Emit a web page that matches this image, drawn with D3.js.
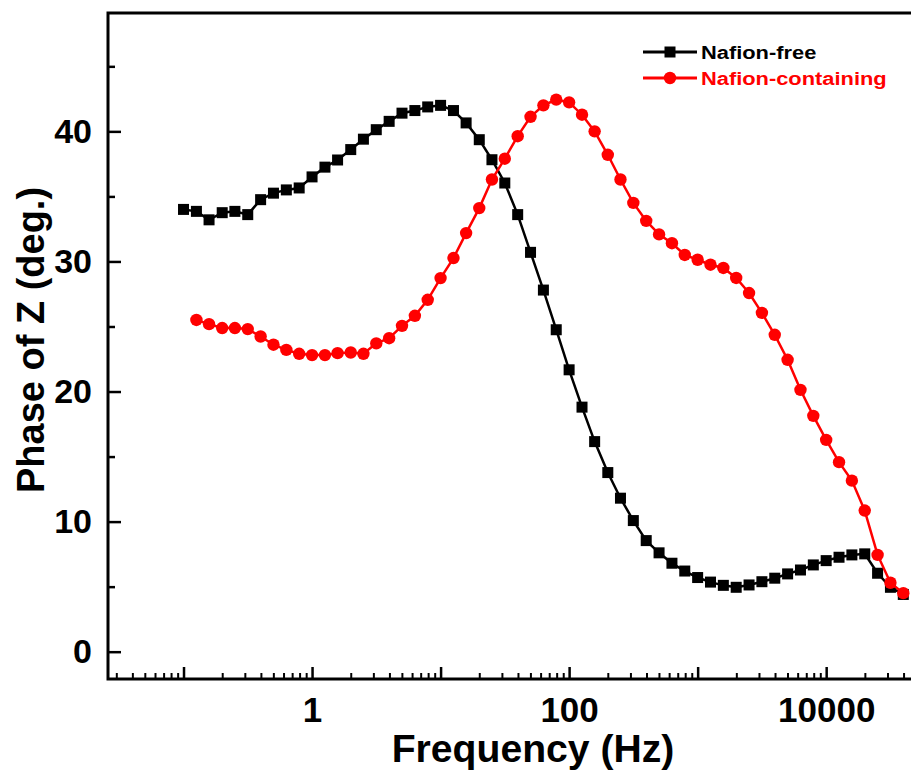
<!DOCTYPE html>
<html>
<head>
<meta charset="utf-8">
<script src="https://cdn.jsdelivr.net/npm/d3@7"></script>
<style>
  html, body { margin: 0; padding: 0; background: #ffffff; }
  svg { display: block; }
  text { font-family: "Liberation Sans", Arial, sans-serif; font-weight: bold; }
</style>
</head>
<body>
<svg id="chart" width="911" height="773"></svg>
<script>
// ---- data ----
const freqFree = [0.1, 0.126, 0.158, 0.2, 0.251, 0.316, 0.398, 0.501, 0.631, 0.794,
  1, 1.26, 1.58, 2, 2.51, 3.16, 3.98, 5.01, 6.31, 7.94,
  10, 12.6, 15.8, 20, 25.1, 31.6, 39.8, 50.1, 63.1, 79.4,
  100, 126, 158, 200, 251, 316, 398, 501, 631, 794,
  1000, 1259, 1585, 1995, 2512, 3162, 3981, 5012, 6310, 7943,
  10000, 12589, 15849, 19953, 25119, 31623, 39811];
const phaseFree = [34.0, 33.85, 33.2, 33.75, 33.85, 33.6, 34.75, 35.25, 35.5, 35.65,
  36.5, 37.25, 37.8, 38.6, 39.4, 40.13, 40.77, 41.4, 41.6, 41.88,
  42.0, 41.6, 40.65, 39.36, 37.82, 36.03, 33.6, 30.7, 27.8, 24.75,
  21.67, 18.8, 16.15, 13.77, 11.8, 10.08, 8.54, 7.6, 6.8, 6.2,
  5.7, 5.35, 5.1, 4.95, 5.13, 5.38, 5.65, 5.98, 6.28, 6.67,
  7.0, 7.26, 7.44, 7.52, 6.03, 4.95, 4.4];

const freqNaf = [0.126, 0.158, 0.2, 0.251, 0.316, 0.398, 0.501, 0.631, 0.794,
  1, 1.26, 1.58, 2, 2.51, 3.16, 3.98, 5.01, 6.31, 7.94,
  10, 12.6, 15.8, 20, 25.1, 31.6, 39.8, 50.1, 63.1, 79.4,
  100, 126, 158, 200, 251, 316, 398, 501, 631, 794,
  1000, 1259, 1585, 1995, 2512, 3162, 3981, 5012, 6310, 7943,
  10000, 12589, 15849, 19953, 25119, 31623, 39811];
const phaseNaf = [25.5, 25.18, 24.88, 24.88, 24.8, 24.23, 23.6, 23.2, 22.9,
  22.8, 22.8, 22.95, 23.0, 22.9, 23.7, 24.1, 25.05, 25.82, 27.05,
  28.72, 30.26, 32.18, 34.1, 36.3, 37.9, 39.63, 41.12, 42.0, 42.44,
  42.23, 41.28, 40.0, 38.2, 36.3, 34.5, 33.12, 32.08, 31.4, 30.5,
  30.13, 29.75, 29.5, 28.73, 27.57, 26.05, 24.36, 22.44, 20.13, 18.13,
  16.28, 14.57, 13.15, 10.85, 7.44, 5.3, 4.5];

const seriesNames = ["Nafion-free", "Nafion-containing"];
const seriesColors = ["#000000", "#ff0000"];
const xMajorTicks = [0.1, 1, 10, 100, 1000, 10000];
const xLabeledTicks = [1, 100, 10000];
const yMajorTicks = [0, 10, 20, 30, 40];
const yMinorTicks = [5, 15, 25, 35, 45];
const xTitle = "Frequency (Hz)";
const yTitle = "Phase of Z (deg.)";

// ---- layout ----
const svg = d3.select("#chart");
const mLeft = 108, mTop = 13, mBottom = 679, mRight = 929;

const x = d3.scaleLog().domain([0.02585, 63096]).range([mLeft, mRight]);
const y = d3.scaleLinear().domain([-2.1, 49.1]).range([mBottom, mTop]);

// minor x ticks
const xMinor = [];
for (let d = 0.01; d < 100000; d *= 10) {
  for (let m = 2; m <= 9; m++) {
    const v = +(d * m).toPrecision(6);
    if (v > x.domain()[0] && v < x.domain()[1]) xMinor.push(v);
  }
}

const lw = 3;

// frame
svg.append("rect")
  .attr("x", mLeft).attr("y", mTop)
  .attr("width", mRight - mLeft).attr("height", mBottom - mTop)
  .attr("fill", "none").attr("stroke", "#000").attr("stroke-width", lw);

// x axis - minor
svg.append("g").attr("transform", `translate(0,${mBottom})`)
  .call(d3.axisBottom(x).tickValues(xMinor).tickSize(-6).tickFormat(""))
  .call(g => g.select(".domain").remove())
  .call(g => g.selectAll("line").attr("stroke-width", 2));

// x axis - major
svg.append("g").attr("transform", `translate(0,${mBottom})`)
  .call(d3.axisBottom(x).tickValues(xMajorTicks).tickSize(-12).tickPadding(18)
    .tickFormat(d => xLabeledTicks.includes(d) ? String(d) : ""))
  .call(g => g.select(".domain").remove())
  .call(g => g.selectAll("line").attr("stroke-width", 2.5))
  .call(g => g.selectAll("text").attr("font-size", 35).attr("fill", "#000")
    .attr("font-family", "Liberation Sans, Arial, sans-serif").attr("font-weight", "bold"));

// y axis - minor
svg.append("g").attr("transform", `translate(${mLeft},0)`)
  .call(d3.axisLeft(y).tickValues(yMinorTicks).tickSize(-7).tickFormat(""))
  .call(g => g.select(".domain").remove())
  .call(g => g.selectAll("line").attr("stroke-width", 2.5));

// y axis - major
svg.append("g").attr("transform", `translate(${mLeft},0)`)
  .call(d3.axisLeft(y).tickValues(yMajorTicks).tickSize(-13).tickPadding(16))
  .call(g => g.select(".domain").remove())
  .call(g => g.selectAll("line").attr("stroke-width", 2.5))
  .call(g => g.selectAll("text").attr("font-size", 34).attr("fill", "#000")
    .attr("font-family", "Liberation Sans, Arial, sans-serif").attr("font-weight", "bold"));

// titles
svg.append("text").attr("transform", "translate(533,762) scale(1.03,1)")
  .attr("text-anchor", "middle").attr("font-size", 38).attr("fill", "#000")
  .text(xTitle);
svg.append("text")
  .attr("transform", `translate(44,340) rotate(-90)`)
  .attr("text-anchor", "middle").attr("font-size", 38).attr("fill", "#000")
  .text(yTitle);

// clip
svg.append("clipPath").attr("id", "plotclip")
  .append("rect").attr("x", mLeft).attr("y", mTop).attr("width", mRight - mLeft).attr("height", mBottom - mTop);

const plot = svg.append("g").attr("clip-path", "url(#plotclip)");

const freeData = freqFree.map((f, i) => ({ f, v: phaseFree[i] }));
const nafData = freqNaf.map((f, i) => ({ f, v: phaseNaf[i] }));

const line = d3.line().x(d => x(d.f)).y(d => y(d.v));

// black series
plot.append("path").datum(freeData).attr("d", line)
  .attr("fill", "none").attr("stroke", seriesColors[0]).attr("stroke-width", 2.5);
const sq = 11;
plot.selectAll("rect.free").data(freeData).join("rect").attr("class", "free")
  .attr("x", d => x(d.f) - sq / 2).attr("y", d => y(d.v) - sq / 2)
  .attr("width", sq).attr("height", sq).attr("fill", seriesColors[0]);

// red series
plot.append("path").datum(nafData).attr("d", line)
  .attr("fill", "none").attr("stroke", seriesColors[1]).attr("stroke-width", 2.5);
plot.selectAll("circle.naf").data(nafData).join("circle").attr("class", "naf")
  .attr("cx", d => x(d.f)).attr("cy", d => y(d.v)).attr("r", 6.2)
  .attr("fill", seriesColors[1]);

// legend
const legend = svg.append("g");
const legY = [52, 78];
seriesNames.forEach((name, i) => {
  const g = legend.append("g");
  g.append("line").attr("x1", 643).attr("x2", 697).attr("y1", legY[i]).attr("y2", legY[i])
    .attr("stroke", seriesColors[i]).attr("stroke-width", 3);
  if (i === 0) {
    g.append("rect").attr("x", 670 - 5.5).attr("y", legY[i] - 5.5).attr("width", 11).attr("height", 11)
      .attr("fill", seriesColors[i]);
  } else {
    g.append("circle").attr("cx", 670).attr("cy", legY[i]).attr("r", 6.2).attr("fill", seriesColors[i]);
  }
  g.append("text").attr("transform", `translate(701,${legY[i] + 7}) scale(1.15,1)`)
    .attr("font-size", 19)
    .attr("fill", seriesColors[i]).text(name);
});
</script>
</body>
</html>
